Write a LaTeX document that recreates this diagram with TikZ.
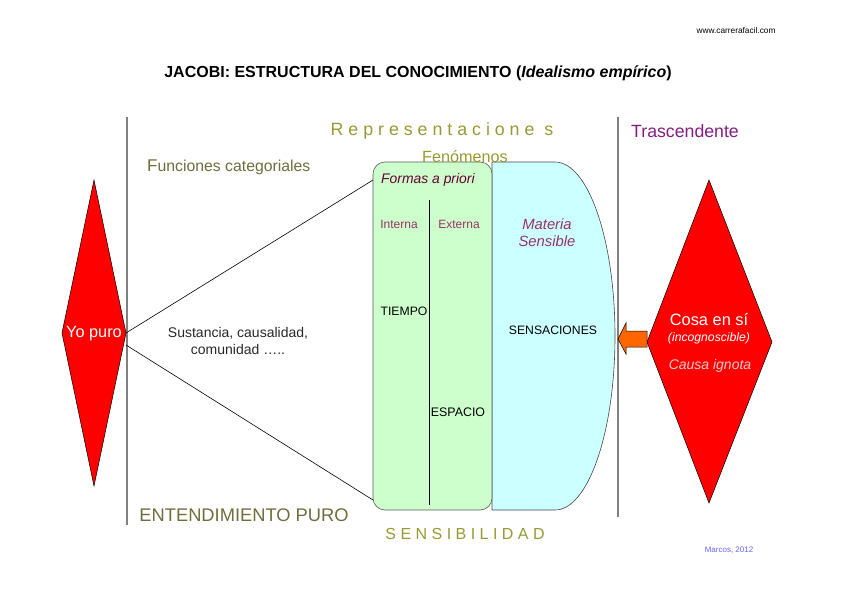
\documentclass[tikz,border=0pt]{standalone}
\usepackage{fontspec}
\setmainfont{Liberation Sans}
\definecolor{olive1}{RGB}{153,153,51}
\definecolor{olive2}{RGB}{110,110,60}
\definecolor{purp}{RGB}{130,30,130}
\definecolor{maroon1}{RGB}{102,0,51}
\definecolor{maroon2}{RGB}{153,51,102}
\definecolor{greenfill}{RGB}{204,255,204}
\definecolor{cyanfill}{RGB}{204,255,255}
\definecolor{orangefill}{RGB}{255,102,0}
\definecolor{pinkgrey}{RGB}{235,205,205}
\definecolor{bluish}{RGB}{102,102,255}
\definecolor{txtgrey}{RGB}{40,40,40}
\newcommand{\fsz}[1]{\fontsize{#1}{#1}\selectfont}
\tikzset{
  sep/.style={draw={rgb,255:red,128;green,128;blue,128}, line width=1.6pt},
  lbl/.style={inner sep=0pt, anchor=center},
  conn/.style={draw=black, line width=0.6pt},
  redd/.style={fill=red, draw=black, line width=0.5pt},
}
\begin{document}
\begin{tikzpicture}[x=1pt,y=-1pt]
\useasboundingbox (0,0) rectangle (848,599);
% header
\node[lbl] (web) at (736,31) {\fsz{8.3}www.carrerafacil.com};
\node[lbl] (title) at (418,73) {\fsz{16}\bfseries JACOBI: ESTRUCTURA DEL CONOCIMIENTO (\textit{Idealismo empírico})};
% separators
\coordinate (s1t) at (127,117); \coordinate (s1b) at (127,525);
\coordinate (s2t) at (618,117); \coordinate (s2b) at (618,517);
\draw[sep] (s1t) -- (s1b);
\draw[sep] (s2t) -- (s2b);
% fan lines
\coordinate (yoE) at (126,333);
\coordinate (yoE2) at (126,345);
\coordinate (gTL) at (373,180);
\coordinate (gBL) at (373,500);
\draw[conn] (yoE) -- (gTL);
\draw[conn] (yoE2) -- (gBL);
% cyan shape
\draw[fill=cyanfill, draw={rgb,255:red,70;green,70;blue,70}, line width=0.6pt]
  (492,162) -- (555,162) arc[start angle=-90, end angle=90, x radius=60, y radius=174] -- (492,510) -- cycle;
% green box
\node[draw={rgb,255:red,90;green,90;blue,90}, line width=0.6pt, fill=greenfill, rounded corners=12pt,
  minimum width=119pt, minimum height=348pt, inner sep=0pt] (green) at (432.5,336) {};
\coordinate (divT) at (429,200); \coordinate (divB) at (429,505);
\draw[conn] (divT) -- (divB);
% left diamond
\draw[redd] (94,180) -- (126,333) -- (94,486) -- (62,333) -- cycle;
\node[lbl, text=white] (yo) at (94,334) {\fsz{16.3}Yo puro};
% right diamond
\draw[redd] (709,180) -- (772,342) -- (709,503) -- (647,342) -- cycle;
\node[lbl, text=white] (cosa) at (709,320) {\fsz{16.4}Cosa en sí};
\node[lbl, text=white] (inc) at (709,338) {\fsz{12.2}\itshape (incognoscible)};
\node[lbl, text=pinkgrey] (causa) at (710,366) {\fsz{14}\itshape Causa ignota};
% orange arrow
\draw[fill=orangefill, draw=black, line width=0.5pt]
  (647,331) -- (626,331) -- (626,323) -- (618,339) -- (626,354) -- (626,347) -- (647,347) -- cycle;
\coordinate (arrowtip) at (618,339);
% texts
\node[lbl, text=olive1] (repr) at (442,131) {\fsz{17.8}R e p r e s e n t a c i o n e\ \ s};
\node[lbl, text=purp] (tras) at (685,131) {\fsz{17.7}Trascendente};
\node[lbl, text=olive1] (fen) at (465,157) {\fsz{16.2}Fenómenos};
\node[lbl, text=olive2, anchor=west] (func) at (147,167) {{\fsz{17}F}\fsz{15.8}unciones categoriales};
\node[lbl, text=maroon1, anchor=west] (formas) at (381,180) {\fsz{13.9}\itshape Formas a priori};
\node[lbl, text=maroon2] (interna) at (399,224) {\fsz{12}Interna};
\node[lbl, text=maroon2] (externa) at (459,224) {\fsz{12}Externa};
\node[lbl, text=maroon2, align=center] (materia) at (547,233) {\fsz{14.8}\itshape Materia\\[5pt]\fsz{14.8}\itshape Sensible};
\node[lbl] (tiempo) at (404,311) {\fsz{12.2}TIEMPO};
\node[lbl] (sens) at (553,330) {\fsz{12.2}SENSACIONES};
\node[lbl] (esp) at (458,412) {\fsz{12.4}ESPACIO};
\node[lbl, text=txtgrey, align=center] (sust) at (238,340.5) {\fsz{14}Sustancia, causalidad,\\[5pt]\fsz{14}comunidad …..};
\node[lbl, text=olive2] (ent) at (244,515) {\fsz{18.3}ENTENDIMIENTO PURO};
\node[lbl, text=olive1] (sensib) at (465,534) {\fsz{16}S E N S I B I L I D A D};
\node[lbl, text=bluish] (marcos) at (729,550) {\fsz{8}Marcos, 2012};
\end{tikzpicture}
\end{document}
